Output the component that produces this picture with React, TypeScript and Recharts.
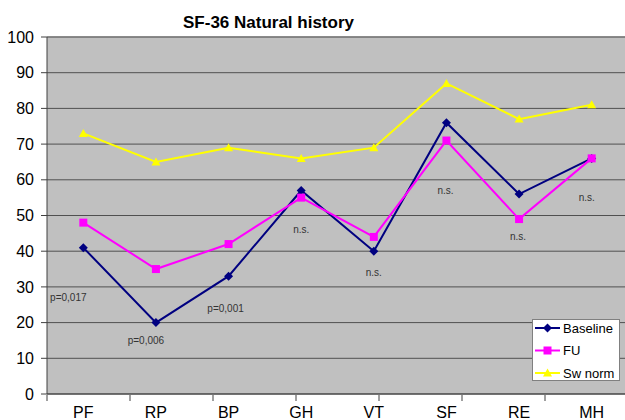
import React from 'react';
import { LineChart, Line, XAxis, YAxis, CartesianGrid, Legend, ReferenceLine } from 'recharts';

const categories = ['PF', 'RP', 'BP', 'GH', 'VT', 'SF', 'RE', 'MH'];
const baseline = [41, 20, 33, 57, 40, 76, 56, 66];
const fu = [48, 35, 42, 55, 44, 71, 49, 66];
const swNorm = [73, 65, 69, 66, 69, 87, 77, 81];
const annotationText = ['p=0,017', 'p=0,006', 'p=0,001', 'n.s.', 'n.s.', 'n.s.', 'n.s.', 'n.s.'];
const annotationValue = [27, 15, 24, 46, 34, 57, 44, 55];
const yTicks = [0, 10, 20, 30, 40, 50, 60, 70, 80, 90, 100];
const boundaryTicks = [0, 1, 2, 3, 4, 5, 6, 7, 8];

const annDx = [-15, -10, -3, 0, 0, -1, -1, -5];

const data = categories.map((c, i) => ({
  cat: c,
  baseline: baseline[i],
  fu: fu[i],
  sw: swNorm[i],
  ann: annotationValue[i],
}));

const FONT = 'Arial, "Liberation Sans", sans-serif';

const Diamond = ({ cx, cy, fill }: any) => (
  <polygon points={`${cx},${cy - 4.5} ${cx + 4.5},${cy} ${cx},${cy + 4.5} ${cx - 4.5},${cy}`} fill={fill} />
);
const Square = ({ cx, cy, fill }: any) => <rect x={cx - 4} y={cy - 4} width={8} height={8} fill={fill} />;
const Triangle = ({ cx, cy, fill }: any) => (
  <polygon points={`${cx},${cy - 4.5} ${cx + 4.5},${cy + 3.5} ${cx - 4.5},${cy + 3.5}`} fill={fill} />
);

const series = [
  { key: 'baseline', name: 'Baseline', color: '#000080', Marker: Diamond },
  { key: 'fu', name: 'FU', color: '#ff00ff', Marker: Square },
  { key: 'sw', name: 'Sw norm', color: '#ffff00', Marker: Triangle },
];

const LegendBox = () => (
  <div
    style={{
      width: 88,
      height: 62,
      boxSizing: 'border-box',
      border: '1px solid #808080',
      background: '#ffffff',
    }}
  >
    <svg width={86} height={60} style={{ display: 'block' }}>
      {series.map((s, i) => {
        const y = 8 + i * 22.5;
        const M = s.Marker;
        return (
          <g key={s.key}>
            <line x1={2} x2={27} y1={y} y2={y} stroke={s.color} strokeWidth={2} />
            <M cx={14.5} cy={y} fill={s.color} />
            <text x={30} y={y + 4.5} fontSize={13} fontFamily={FONT} fill="#000">
              {s.name}
            </text>
          </g>
        );
      })}
    </svg>
  </div>
);

export default function App() {
  return (
    <div style={{ position: 'absolute', left: 0, top: 0, width: 625, height: 420, overflow: 'hidden', background: '#fff' }}>
      <LineChart width={640} height={420} data={data} margin={{ top: 37, right: 12, left: 0, bottom: 0 }}>
        <CartesianGrid xAxisId="cat" vertical={false} fill="#c0c0c0" stroke="#505050" strokeWidth={1} />
        <XAxis
          xAxisId="cat"
          dataKey="cat"
          scale="band"
          height={1}
          tickLine={false}
          axisLine={{ stroke: '#404040' }}
          tickSize={6}
          tickMargin={7}
          interval={0}
          tick={{ fontSize: 16, fontFamily: FONT, fill: '#000' }}
        />
        <XAxis
          xAxisId="grid"
          type="number"
          domain={[0, 8]}
          ticks={boundaryTicks}
          height={25}
          tickFormatter={() => ''}
          axisLine={false}
          tickLine={{ stroke: '#404040' }}
          tickSize={6}
          allowDataOverflow
        />
        <YAxis
          domain={[0, 100]}
          ticks={yTicks}
          width={47}
          tickSize={6}
          tickMargin={7}
          stroke="#404040"
          interval={0}
          tick={{ fontSize: 16, fontFamily: FONT, fill: '#000' }}
        />
        <ReferenceLine xAxisId="cat" y={100} stroke="#808080" strokeWidth={1.5} />
        {series.map((s) => (
          <Line
            key={s.key}
            xAxisId="cat"
            dataKey={s.key}
            name={s.name}
            stroke={s.color}
            strokeWidth={2}
            isAnimationActive={false}
            activeDot={false}
            dot={(p: any) => <s.Marker key={`${s.key}-${p.index}`} cx={p.cx} cy={p.cy} fill={s.color} />}
          />
        ))}
        <Line
          xAxisId="cat"
          dataKey="ann"
          stroke="none"
          dot={false}
          activeDot={false}
          legendType="none"
          isAnimationActive={false}
          label={(p: any) => (
            <text
              key={`ann-${p.index}`}
              x={p.x + annDx[p.index]}
              y={p.y + 3.5}
              textAnchor="middle"
              fontSize={10}
              fontFamily={FONT}
              fill="#333"
            >
              {annotationText[p.index]}
            </text>
          )}
        />
        <Legend
          layout="horizontal"
          verticalAlign="middle"
          align="center"
          content={() => <LegendBox />}
          wrapperStyle={{ left: 532, top: 319, width: 88, height: 62, right: 'auto', bottom: 'auto' }}
        />
        <text x={268.5} y={28} textAnchor="middle" fontSize={17} fontWeight="bold" fontFamily={FONT} fill="#000">
          SF-36 Natural history
        </text>
      </LineChart>
    </div>
  );
}
